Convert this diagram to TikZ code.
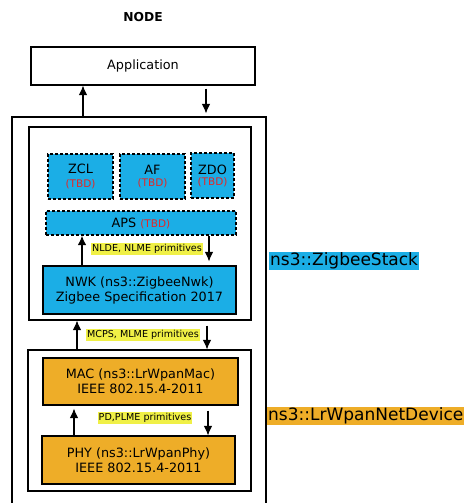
\documentclass[tikz,border=0pt]{standalone}
\usepackage{fontspec}
\setmainfont{DejaVu Sans}
\usetikzlibrary{arrows.meta, positioning}

\definecolor{stackblue}{RGB}{27,174,230}
\definecolor{devorange}{RGB}{238,173,40}
\definecolor{primyellow}{RGB}{240,240,70}
\definecolor{tbdred}{RGB}{225,40,40}

\begin{document}
\begin{tikzpicture}[x=1pt, y=-1pt,
  layerbox/.style = {draw, line width=1.1pt, inner sep=0pt, align=center,
    font=\fontsize{12.8}{15}\selectfont},
  blocknode/.style = {layerbox, fill=stackblue},
  tbdnode/.style = {layerbox, fill=stackblue, densely dashed, line width=1.3pt},
  macnode/.style = {layerbox, fill=devorange},
  frame/.style = {draw, line width=1.1pt, inner sep=0pt},
  primlabel/.style = {fill=primyellow, inner sep=1pt, font=\fontsize{9.6}{11}\selectfont},
  classlabel/.style = {inner sep=1pt, anchor=west, font=\fontsize{17}{19}\selectfont},
  arr/.style = {-{Latex[length=9.5pt, width=8.5pt]}, line width=1.1pt}
]
\clip (0,0) rectangle (465,503);

\node[font=\bfseries\fontsize{12.3}{14}\selectfont] (title) at (143,17) {NODE};
\node[layerbox, minimum width=224, minimum height=38] (app) at (143,66) {Application};

\node[frame, minimum width=254, minimum height=402] (node) at (139,318) {};
\node[frame, minimum width=222, minimum height=193] (zigbee) at (140,223.5) {};
\node[frame, minimum width=223, minimum height=141] (lrwpan) at (139.5,420.5) {};

\newcommand{\tbd}{{\color{tbdred}\fontsize{10.5}{12}\selectfont(TBD)}}
\node[tbdnode, minimum width=65, minimum height=45] (zcl) at (80.5,176.5) {ZCL\\[-1pt]\tbd};
\node[tbdnode, minimum width=65, minimum height=45] (af) at (152.5,176.5) {AF\\[-3pt]\tbd};
\node[tbdnode, minimum width=43, minimum height=45] (zdo) at (212.5,175.5) {ZDO\\[-4pt]\tbd};
\node[tbdnode, minimum width=190, minimum height=24] (aps) at (141,223) {APS \tbd};
\node[blocknode, minimum width=193, minimum height=48] (nwk) at (139.5,290)
  {NWK (ns3::ZigbeeNwk)\\Zigbee Specification 2017};

\node[macnode, minimum width=195, minimum height=47] (mac) at (140.5,381.5)
  {MAC (ns3::LrWpanMac)\\IEEE 802.15.4-2011};
\node[macnode, minimum width=193, minimum height=48] (phy) at (138.5,460)
  {PHY (ns3::LrWpanPhy)\\IEEE 802.15.4-2011};

\node[primlabel] (nlde) at (147,249) {NLDE, NLME primitives};
\node[primlabel] (mcps) at (143,335) {MCPS, MLME primitives};
\node[primlabel] (pd) at (145,418) {PD,PLME primitives};

\node[classlabel, fill=stackblue] (zbstack) at (269,261) {ns3::ZigbeeStack};
\node[classlabel, fill=devorange] (netdev) at (267,416) {ns3::LrWpanNetDevice};

\draw[arr] (node.north -| 83,0) -- (app.south -| 83,0);
\draw[arr, shorten <=3pt, shorten >=3pt] (app.south -| 206,0) -- (node.north -| 206,0);
\draw[arr] (nwk.north -| 82,0) -- (aps.south -| 82,0);
\draw[arr, shorten >=4pt] (aps.south -| 209,0) -- (nwk.north -| 209,0);
\draw[arr] (lrwpan.north -| 77,0) -- (zigbee.south -| 77,0);
\draw[arr, shorten <=5pt] (zigbee.south -| 207,0) -- (lrwpan.north -| 207,0);
\draw[arr, shorten >=3pt] (phy.north -| 74,0) -- (mac.south -| 74,0);
\draw[arr, shorten <=5pt] (mac.south -| 208,0) -- (phy.north -| 208,0);
\end{tikzpicture}
\end{document}
